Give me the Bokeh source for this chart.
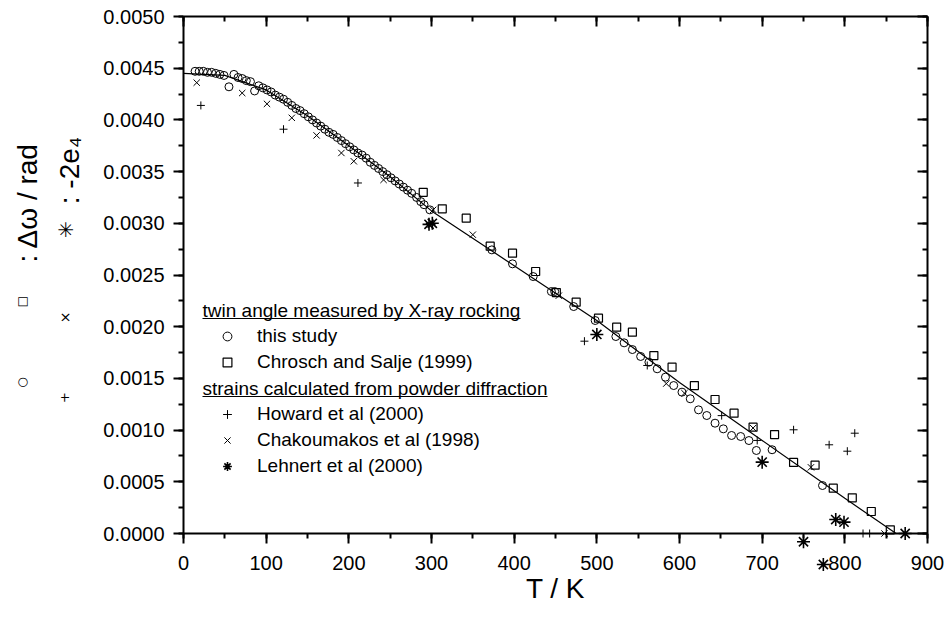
from bokeh.plotting import figure
from bokeh.models import (LinearAxis, Range1d, SingleIntervalTicker, PrintfTickFormatter,
                          Label, Legend, LegendItem, CustomJSTickFormatter)
from bokeh.embed import file_html
from bokeh.resources import INLINE

# ---------------- data ----------------
fit_T = [0, 50, 100, 150, 200, 250, 300, 400, 500, 600, 700, 800, 862]
fit_V = [0.00445, 0.00443, 0.00429, 0.00404, 0.00375, 0.00345, 0.00312,
         0.00259, 0.00206, 0.00146, 0.00090, 0.00034, 0.0]

study_T = [14, 19, 24, 29, 34, 39, 44, 49, 55, 61, 66, 71, 76, 81, 86, 91, 96, 101,
           106, 111, 116, 121, 126, 131, 136, 141, 146, 151, 156, 161, 166, 171, 176,
           181, 186, 191, 196, 201, 206, 211, 216, 221, 226, 231, 236, 241, 246, 251,
           256, 261, 266, 271, 276, 282, 287, 291, 298,
           373, 398, 423, 445, 449, 472, 498, 523, 533, 543, 553, 563, 573, 583, 593,
           603, 613, 623, 633, 643, 653, 663, 674, 684, 693, 712, 773]
study_V = [0.00447, 0.00447, 0.00447, 0.00446, 0.00446, 0.00445, 0.00444, 0.00443,
           0.00432, 0.00444, 0.00441, 0.00440, 0.00438, 0.00437, 0.00428, 0.00433,
           0.00431, 0.00429, 0.00427, 0.00424, 0.00422, 0.00420, 0.00417, 0.00414,
           0.00411, 0.00409, 0.00406, 0.00403, 0.00400, 0.00397, 0.00394, 0.00391,
           0.00388, 0.00386, 0.00383, 0.00380, 0.00377, 0.00374, 0.00371, 0.00368,
           0.00366, 0.00363, 0.00359, 0.00356, 0.00353, 0.00350, 0.00347, 0.00344,
           0.00341, 0.00338, 0.00335, 0.00332, 0.00329, 0.00325, 0.00321, 0.00318,
           0.00313,
           0.002743, 0.002608, 0.002485, 0.00234, 0.00234, 0.002195, 0.00206, 0.001905,
           0.001844, 0.001779, 0.001712, 0.001657, 0.001593, 0.001512, 0.001431,
           0.001367, 0.001303, 0.001196, 0.001141, 0.001067, 0.001012, 0.000948,
           0.000938, 0.000899, 0.000803, 0.00081, 0.000464]

chrosch_T = [290, 313, 342, 371, 398, 426, 451, 475, 502, 524, 543, 569, 591, 618,
             643, 666, 689, 715, 738, 764, 786, 809, 832, 855]
chrosch_V = [0.0033, 0.00314, 0.00305, 0.002779, 0.002711, 0.002534, 0.00233, 0.002237,
             0.002082, 0.001995, 0.001947, 0.001721, 0.001609, 0.001431, 0.001296,
             0.001164, 0.001028, 0.000957, 0.000687, 0.000661, 0.000438, 0.000345,
             0.000213, 0.000036]

howard_T = [21, 121, 211, 485, 561, 651, 694, 738, 781, 803, 812, 822, 830]
howard_V = [0.00414, 0.00391, 0.00339, 0.00186, 0.001625, 0.00114, 0.0009, 0.001003,
            0.000858, 0.000796, 0.00097, 0.0, 0.0]

chako_T = [16, 71, 101, 131, 161, 191, 206, 242, 302, 350, 454, 584, 606, 689, 759, 848]
chako_V = [0.00436, 0.00426, 0.004155, 0.00402, 0.00385, 0.00368, 0.0036, 0.00342,
           0.00313, 0.00289, 0.0023, 0.00145, 0.001357, 0.00102, 0.00064, 0.0]

lehnert_T = [297, 301, 500, 700, 750, 774, 789, 799, 873]
lehnert_V = [0.00299, 0.00300, 0.001925, 0.00069, -0.00008, -0.0003, 0.000135,
             0.00011, 0.0]

x_bounds = (0, 900)
y_bounds = (0, 0.005)
x_ticks_interval = 100
y_ticks_interval = 0.0005

FONT = "Liberation Sans"
SYM = "DejaVu Sans"

# ---------------- layout helpers (reference pixel -> data) ----------------
W, H = 945, 616
X0, XS = 183.0, 744.0 / 900.0
Y0, YS = 533.0, 103400.0


def dx(px):
    return (px - X0) / XS


def dy(py):
    return (Y0 - py) / YS


p = figure(width=W, height=H, output_backend="svg", toolbar_location=None,
           x_range=Range1d(dx(0), dx(W)), y_range=Range1d(dy(H), dy(0)),
           x_axis_location=None, y_axis_location=None,
           min_border_left=0, min_border_right=0, min_border_top=0,
           min_border_bottom=0)
p.grid.visible = False
p.outline_line_color = None
p.background_fill_color = "white"
p.border_fill_color = "white"

xticker = SingleIntervalTicker(interval=x_ticks_interval, num_minor_ticks=2)
yticker = SingleIntervalTicker(interval=y_ticks_interval, num_minor_ticks=2)
blank = CustomJSTickFormatter(code="return ''")


def make_axis(ticker, bounds, loc, tin, tout, formatter=None):
    ax = LinearAxis(ticker=ticker, bounds=bounds, fixed_location=loc)
    if formatter is not None:
        ax.formatter = formatter
    ax.axis_line_width = 2
    ax.axis_line_color = "black"
    ax.major_tick_line_width = 2
    ax.minor_tick_line_width = 2
    ax.major_tick_line_color = "black"
    ax.minor_tick_line_color = "black"
    ax.major_tick_in = tin
    ax.major_tick_out = tout
    ax.minor_tick_in = tin // 2
    ax.minor_tick_out = tout // 2
    ax.major_label_text_font = FONT
    ax.major_label_text_color = "black"
    ax.major_label_text_font_size = "20px"
    return ax


left = make_axis(yticker, y_bounds, 0, 0, 10, PrintfTickFormatter(format="%.4f"))
left.major_label_standoff = 9
p.add_layout(left, "left")

bottom = make_axis(xticker, x_bounds, 0, 0, 10)
bottom.major_label_standoff = 12
bottom.axis_label = "T / K"
bottom.axis_label_text_font = FONT
bottom.axis_label_text_font_size = "28px"
bottom.axis_label_text_font_style = "normal"
bottom.axis_label_text_color = "black"
bottom.axis_label_standoff = 0
p.add_layout(bottom, "below")

top = make_axis(xticker, x_bounds, 0.005, 10, 0, blank)
top.major_label_text_font_size = "0px"
top.major_label_standoff = 0
p.add_layout(top, "above")

right = make_axis(yticker, y_bounds, 900, 10, 0, blank)
right.major_label_text_font_size = "0px"
right.major_label_standoff = 0
p.add_layout(right, "right")

# ---------------- glyphs ----------------
p.line(fit_T, fit_V, line_color="black", line_width=1.2)
r_study = p.scatter(study_T, study_V, marker="circle", size=8, fill_color=None,
                    line_color="black", line_width=1)
r_chr = p.scatter(chrosch_T, chrosch_V, marker="square", size=8, fill_color=None,
                  line_color="black", line_width=1.2)
r_how = p.scatter(howard_T, howard_V, marker="cross", size=8,
                  line_color="black", line_width=1)
r_cha = p.scatter(chako_T, chako_V, marker="x", size=9,
                  line_color="black", line_width=1)
r_leh = p.scatter(lehnert_T, lehnert_V, marker="asterisk", size=13,
                  line_color="black", line_width=1.6)

# ---------------- legend ----------------
leg_kw = dict(border_line_color=None, background_fill_alpha=0, padding=0, spacing=0,
              margin=0, glyph_width=22, glyph_height=26, label_height=26,
              label_standoff=19, label_text_font=FONT, label_text_font_size="19px",
              label_text_color="black")
leg1 = Legend(items=[LegendItem(label="this study", renderers=[r_study]),
                     LegendItem(label="Chrosch and Salje (1999)", renderers=[r_chr])],
              location=(216, H - 375), **leg_kw)
leg2 = Legend(items=[LegendItem(label="Howard et al (2000)", renderers=[r_how]),
                     LegendItem(label="Chakoumakos et al (1998)", renderers=[r_cha]),
                     LegendItem(label="Lehnert et al (2000)", renderers=[r_leh])],
              location=(216, H - 479), **leg_kw)
p.add_layout(leg1)
p.add_layout(leg2)

headings = [("twin angle measured by X-ray rocking", 310, 520),
            ("strains calculated from powder diffraction", 388, 547)]
for txt, cy, xend in headings:
    p.add_layout(Label(x=dx(202), y=dy(cy), text=txt, text_align="left",
                       text_baseline="middle", text_font=FONT,
                       text_font_size="19px", text_color="black"))
    p.line([dx(202), dx(xend)], [dy(cy + 8), dy(cy + 8)], line_color="black",
           line_width=1)


# ---------------- rotated y titles with symbols ----------------
def rot(px, py, txt, size, font=FONT):
    p.add_layout(Label(x=dx(px), y=dy(py), text=txt, angle=90, angle_units="deg",
                       text_align="center", text_baseline="middle", text_font=font,
                       text_font_size=size, text_color="black"))


rot(27, 202, ": \u0394\u03c9 / rad", "28px")
rot(21, 301, "\u25a1", "12px", SYM)
rot(21, 382, "\u25cb", "12px", SYM)
rot(69, 170, ": -2e\u2084", "28px")
rot(65, 229, "\u2733", "20px", SYM)
rot(64, 317, "\u00d7", "14px", SYM)
rot(64, 397, "+", "13px", SYM)

open("out.html", "w").write(file_html(p, INLINE))
